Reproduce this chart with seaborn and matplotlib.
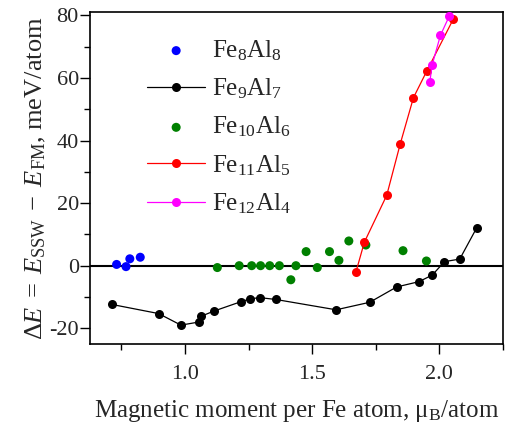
import numpy as np
import pandas as pd
import matplotlib
matplotlib.use("Agg")
import matplotlib.pyplot as plt
import seaborn as sns
from matplotlib.ticker import MultipleLocator

# data
fe8_x = [0.731, 0.768, 0.783, 0.824]
fe8_y = [0.4, -0.3, 2.2, 2.7]

fe9_x = [0.713, 0.896, 0.984, 1.055, 1.062, 1.114, 1.220, 1.257, 1.293, 1.357,
         1.594, 1.726, 1.832, 1.920, 1.972, 2.020, 2.080, 2.146]
fe9_y = [-12.4, -15.3, -19.0, -18.0, -16.2, -14.5, -11.5, -10.6, -10.2, -10.8,
         -14.1, -11.7, -6.8, -5.1, -3.0, 1.3, 2.1, 12.0]

fe10_x = [1.127, 1.213, 1.262, 1.297, 1.333, 1.371, 1.416, 1.436, 1.476, 1.520,
          1.568, 1.605, 1.644, 1.711, 1.857, 1.949]
fe10_y = [-0.6, 0.0, 0.0, 0.0, 0.0, 0.0, -4.5, 0.0, 4.5, -0.6,
          4.5, 1.7, 7.9, 6.6, 4.8, 1.5]

fe11_x = [1.672, 1.705, 1.793, 1.846, 1.898, 1.951, 2.054]
fe11_y = [-2.0, 7.5, 22.5, 38.9, 53.7, 62.3, 78.7]

fe12_x = [1.962, 1.972, 2.004, 2.039]
fe12_y = [58.6, 64.3, 73.6, 79.8]

sns.set_theme(style="ticks")
plt.rcParams['font.family'] = ['Liberation Serif', 'DejaVu Serif']
plt.rcParams['mathtext.fontset'] = 'custom'
plt.rcParams['mathtext.rm'] = 'Liberation Serif'
plt.rcParams['mathtext.it'] = 'Liberation Serif:italic'
plt.rcParams['axes.unicode_minus'] = False

fig = plt.figure(figsize=(5.05, 4.23), dpi=100)
ax = fig.add_axes([0.178, 0.187, 0.818, 0.784])

ax.axhline(0, color='black', lw=1.5, zorder=1)

ms = 6.5
sns.scatterplot(x=fe8_x, y=fe8_y, color='#0000ff', s=ms**2, edgecolor='none',
                label='Fe$_8$Al$_8$', ax=ax, zorder=3)
sns.lineplot(x=fe9_x, y=fe9_y, color='black', lw=0.9, marker='o', markersize=ms,
             markeredgecolor='none', sort=False, label='Fe$_9$Al$_7$', ax=ax, zorder=3)
sns.scatterplot(x=fe10_x, y=fe10_y, color='#008000', s=ms**2, edgecolor='none',
                label='Fe$_{10}$Al$_6$', ax=ax, zorder=3)
sns.lineplot(x=fe11_x, y=fe11_y, color='#ff0000', lw=0.9, marker='o', markersize=ms,
             markeredgecolor='none', sort=False, label='Fe$_{11}$Al$_5$', ax=ax, zorder=4)
sns.lineplot(x=fe12_x, y=fe12_y, color='#ff00ff', lw=0.9, marker='o', markersize=ms,
             markeredgecolor='none', sort=False, label='Fe$_{12}$Al$_4$', ax=ax, zorder=4)

ax.set_xlim(0.626, 2.25)
ax.set_ylim(-25, 81)
ax.xaxis.set_major_locator(MultipleLocator(0.5))
ax.xaxis.set_minor_locator(MultipleLocator(0.25))
ax.yaxis.set_major_locator(MultipleLocator(20))
ax.yaxis.set_minor_locator(MultipleLocator(10))
ax.tick_params(which='major', direction='out', length=7, width=1, labelsize=16, color='black')
ax.tick_params(which='minor', direction='out', length=4, width=1, color='black')
ax.tick_params(axis='x', which='major', pad=8)
ax.tick_params(axis='y', which='major', pad=1)
for s in ax.spines.values():
    s.set_color('black')
    s.set_linewidth(1.2)
    s.set_visible(True)

ax.set_xlabel(r'Magnetic moment per Fe atom, $\mathrm{\mu}_\mathrm{B}$/atom', fontsize=18, labelpad=10)
ax.set_ylabel(r'$\Delta \mathit{E}\;=\;\mathit{E}_\mathrm{SSW}\;-\;\mathit{E}_\mathrm{FM}$, meV/atom',
              fontsize=19, labelpad=1)

leg = ax.legend(loc='upper left', bbox_to_anchor=(0.115, 0.952), frameon=False, fontsize=18,
                handlelength=2.3, labelspacing=0.55, handletextpad=0.3, borderaxespad=0)

fig.savefig('out.png', dpi=100)
